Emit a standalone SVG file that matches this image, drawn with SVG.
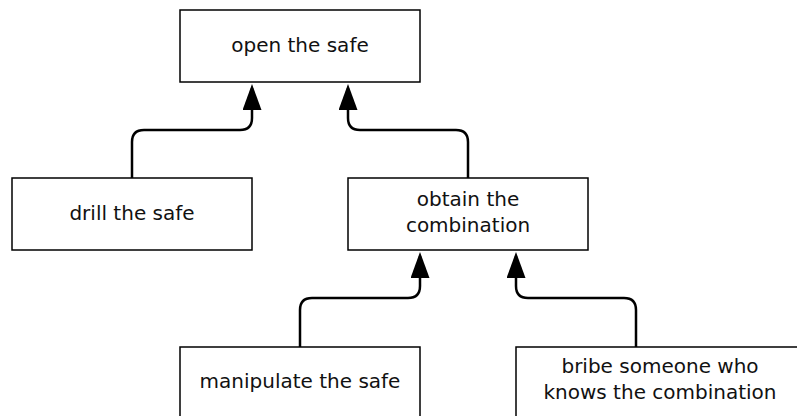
<svg xmlns="http://www.w3.org/2000/svg" width="797" height="416" viewBox="0 0 797 416">
<style>
.box{fill:#fff;stroke:#000;stroke-width:1.5}
.lbl{font-family:"DejaVu Sans",Verdana,sans-serif;font-size:20px;fill:#111;text-anchor:middle}
.edge{fill:none;stroke:#000;stroke-width:2.5}
</style>
<defs>
<marker id="ah" viewBox="0 0 26 19" refX="22" refY="9.5" markerWidth="26" markerHeight="19" markerUnits="userSpaceOnUse" orient="auto">
<path d="M0,0 L26,9.5 L0,19 z" fill="#000"/>
</marker>
</defs>
<rect width="797" height="416" fill="#fff"/>
<g id="connectors">
<path class="edge" d="M132,178 V142 Q132,130 144,130 H240 Q252,130 252,118 V88" marker-end="url(#ah)"/>
<path class="edge" d="M468,178 V142 Q468,130 456,130 H360 Q348,130 348,118 V88" marker-end="url(#ah)"/>
<path class="edge" d="M300,347 V310 Q300,298 312,298 H408 Q420,298 420,286 V256" marker-end="url(#ah)"/>
<path class="edge" d="M636,347 V310 Q636,298 624,298 H528 Q516,298 516,286 V256" marker-end="url(#ah)"/>
</g>
<g id="open">
<rect class="box" x="180" y="10" width="240" height="72"/>
<text class="lbl" x="300" y="52">open the safe</text>
</g>
<g id="drill">
<rect class="box" x="12" y="178" width="240" height="72"/>
<text class="lbl" x="132" y="220">drill the safe</text>
</g>
<g id="obtain">
<rect class="box" x="348" y="178" width="240" height="72"/>
<text class="lbl" x="468" y="206">obtain the</text>
<text class="lbl" x="468" y="232">combination</text>
</g>
<g id="manipulate">
<rect class="box" x="180" y="347" width="240" height="72"/>
<text class="lbl" x="300" y="388">manipulate the safe</text>
</g>
<g id="bribe">
<rect class="box" x="516" y="347" width="288" height="72"/>
<text class="lbl" x="660" y="373">bribe someone who</text>
<text class="lbl" x="660" y="399">knows the combination</text>
</g>
</svg>
